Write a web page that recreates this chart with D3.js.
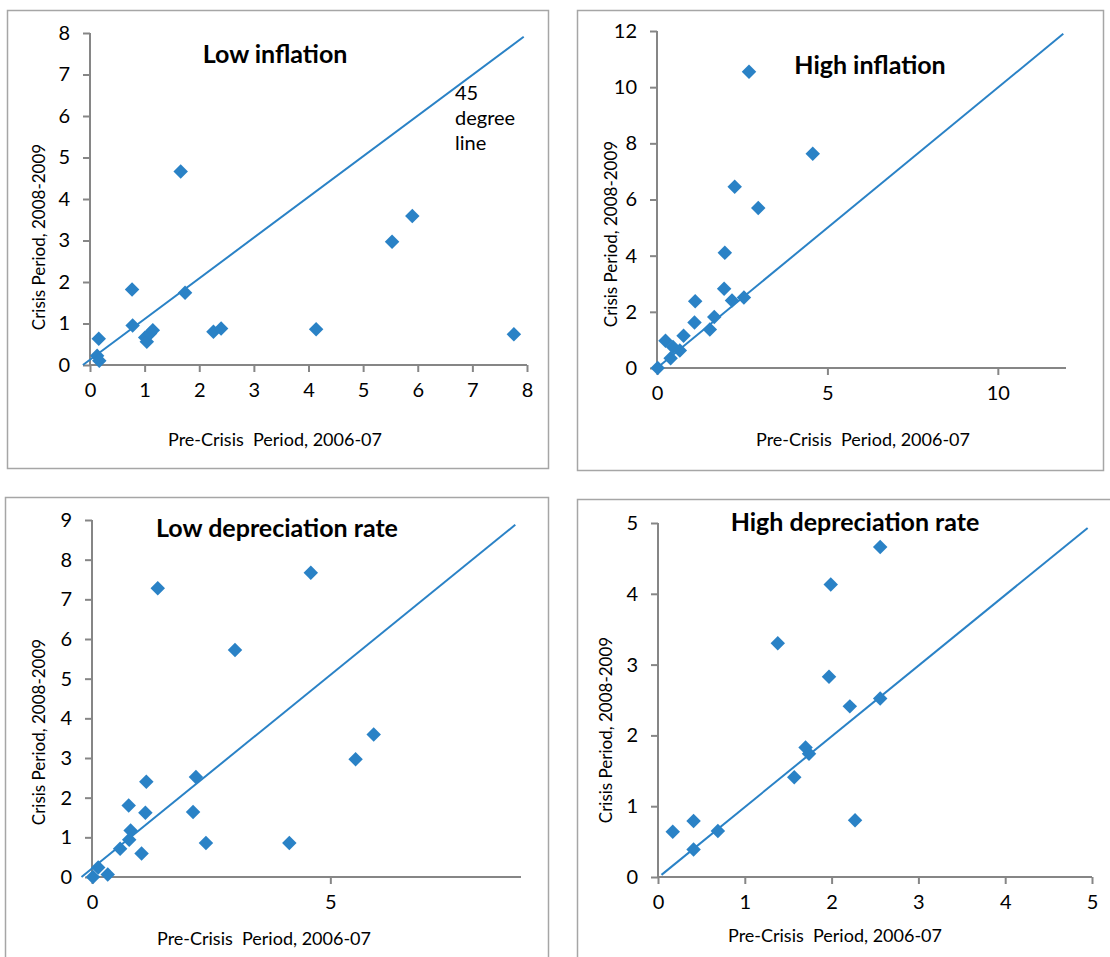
<!DOCTYPE html>
<html>
<head>
<meta charset="utf-8">
<script src="https://cdn.jsdelivr.net/npm/d3@7"></script>
<style>
  body { margin: 0; background: #fff; }
  svg { display: block; font-family: Lato, "Open Sans", sans-serif; }
</style>
</head>
<body>
<svg id="chart" width="1110" height="957"></svg>
<script>
// --- data ---
const lowInflationX = [0.13, 0.17, 0.16, 0.77, 0.78, 1.01, 1.04, 1.10, 1.15, 1.66, 1.74, 2.26, 2.40, 4.14, 5.53, 5.90, 7.76];
const lowInflationY = [0.22, 0.10, 0.63, 1.82, 0.95, 0.66, 0.56, 0.76, 0.84, 4.66, 1.74, 0.80, 0.88, 0.86, 2.97, 3.59, 0.74];

const highInflationX = [0.02, 0.40, 0.25, 0.47, 0.67, 0.78, 1.10, 1.12, 1.55, 1.68, 1.97, 1.99, 2.20, 2.55, 2.28, 2.97, 2.70, 4.57];
const highInflationY = [0.00, 0.35, 0.97, 0.75, 0.62, 1.15, 1.62, 2.38, 1.37, 1.82, 2.82, 4.10, 2.40, 2.51, 6.45, 5.70, 10.55, 7.63];

const lowDepX = [0.02, 0.13, 0.33, 0.59, 0.78, 0.81, 0.77, 1.04, 1.12, 1.14, 1.38, 2.12, 2.18, 2.39, 3.00, 4.14, 4.59, 5.53, 5.91];
const lowDepY = [0.00, 0.24, 0.06, 0.71, 0.94, 1.17, 1.80, 0.59, 1.62, 2.40, 7.28, 1.64, 2.52, 0.86, 5.72, 0.86, 7.67, 2.97, 3.59];

const highDepX = [0.17, 0.41, 0.41, 0.69, 1.38, 1.57, 1.70, 1.74, 1.97, 1.99, 2.21, 2.27, 2.56, 2.56];
const highDepY = [0.64, 0.79, 0.39, 0.65, 3.30, 1.41, 1.83, 1.74, 2.83, 4.13, 2.41, 0.80, 2.52, 4.66];

// 45 degree reference lines: [x0, y0, x1, y1]
const refLines = [
  [-0.13, 0, 7.94, 7.91],
  [0.0, 0.0, 11.92, 11.9],
  [-0.22, 0, 8.88, 8.88],
  [0.04, 0.03, 4.95, 4.93]
];

const titles = ['Low inflation', 'High inflation', 'Low depreciation rate', 'High depreciation rate'];
const xTicks = [d3.range(0, 9, 1), [0, 5, 10], [0, 5], d3.range(0, 6, 1)];
const yTicks = [d3.range(0, 9, 1), d3.range(0, 13, 2), d3.range(0, 10, 1), d3.range(0, 6, 1)];
const xMax = [8, 12, 9, 5];
const yMax = [8, 12, 9, 5];

const xTitle = 'Pre-Crisis  Period, 2006-07';
const yTitle = 'Crisis Period, 2008-2009';

// --- layout of each panel (pixels) ---
const panels = [
  { box: [7, 10, 541, 458],  plot: [90, 33, 527, 365],  title: [275, 63],  xt: [275, 446], yt: [39, 237] },
  { box: [577, 10, 526, 460], plot: [657, 31, 1066, 368], title: [870, 74],  xt: [863, 446], yt: [611, 234] },
  { box: [5, 497, 543, 470],  plot: [92, 520, 521, 877],  title: [277, 537], xt: [264, 945], yt: [39, 732] },
  { box: [577, 499, 540, 470], plot: [658, 523, 1092, 877], title: [855, 531], xt: [835, 942], yt: [606, 730] }
];

const series = [
  [lowInflationX, lowInflationY],
  [highInflationX, highInflationY],
  [lowDepX, lowDepY],
  [highDepX, highDepY]
];

const blue = '#2a82c6';
const axisGray = '#868686';

const svg = d3.select('#chart');
const diamond = d3.symbol().type(d3.symbolSquare).size(105);

panels.forEach((p, i) => {
  const g = svg.append('g');
  const [bx, by, bw, bh] = p.box;
  g.append('rect')
    .attr('x', bx + 0.5).attr('y', by + 0.5)
    .attr('width', bw).attr('height', bh)
    .attr('fill', 'none').attr('stroke', '#a6a6a6').attr('stroke-width', 1.5);

  const [l, t, r, b] = p.plot;
  const x = d3.scaleLinear().domain([0, xMax[i]]).range([l, r]);
  const y = d3.scaleLinear().domain([0, yMax[i]]).range([b, t]);

  // axes
  const xAxis = g.append('g')
    .attr('transform', `translate(0,${b})`)
    .call(d3.axisBottom(x).tickValues(xTicks[i]).tickSize(7).tickPadding(11).tickFormat(d3.format('d')));
  const yAxis = g.append('g')
    .attr('transform', `translate(${l},0)`)
    .call(d3.axisLeft(y).tickValues(yTicks[i]).tickSize(7).tickPadding(13).tickFormat(d3.format('d')));
  [xAxis, yAxis].forEach(a => {
    a.select('.domain').attr('stroke', axisGray).attr('stroke-width', 2);
    a.selectAll('.tick line').attr('stroke', axisGray).attr('stroke-width', 2);
    a.selectAll('.tick text').attr('fill', '#000').style('font-size', '20px').style('font-family', 'Lato, sans-serif');
  });
  // domain without outer tick overhang
  xAxis.select('.domain').attr('d', `M${l},0H${r}`);
  yAxis.select('.domain').attr('d', `M0,${b}V${t}`);

  // 45 degree line
  const rl = refLines[i];
  g.append('line')
    .attr('x1', x(rl[0])).attr('y1', y(rl[1]))
    .attr('x2', x(rl[2])).attr('y2', y(rl[3]))
    .attr('stroke', blue).attr('stroke-width', 2);

  // points
  const [xs, ys] = series[i];
  g.selectAll('path.pt')
    .data(xs.map((v, k) => [v, ys[k]]))
    .enter().append('path')
    .attr('class', 'pt')
    .attr('d', diamond)
    .attr('transform', d => `translate(${x(d[0])},${y(d[1])}) rotate(45)`)
    .attr('fill', blue);

  // titles
  g.append('text')
    .attr('x', p.title[0]).attr('y', p.title[1])
    .attr('text-anchor', 'middle')
    .style('font-size', '25px').style('font-weight', 'bold')
    .text(titles[i]);

  g.append('text')
    .attr('x', p.xt[0]).attr('y', p.xt[1])
    .attr('text-anchor', 'middle')
    .attr('xml:space', 'preserve')
    .style('font-size', '18px')
    .text(xTitle);

  g.append('text')
    .attr('transform', `translate(${p.yt[0]},${p.yt[1]}) rotate(-90)`)
    .attr('text-anchor', 'middle')
    .attr('dy', '0.35em')
    .style('font-size', '17px')
    .text(yTitle);
});

// "45 degree line" note on first panel
svg.append('text')
  .attr('x', 455).attr('y', 100)
  .style('font-size', '20px')
  .selectAll('tspan')
  .data(['45', 'degree', 'line'])
  .enter().append('tspan')
  .attr('x', 455)
  .attr('dy', (d, k) => k === 0 ? 0 : 25)
  .text(d => d);
</script>
</body>
</html>
